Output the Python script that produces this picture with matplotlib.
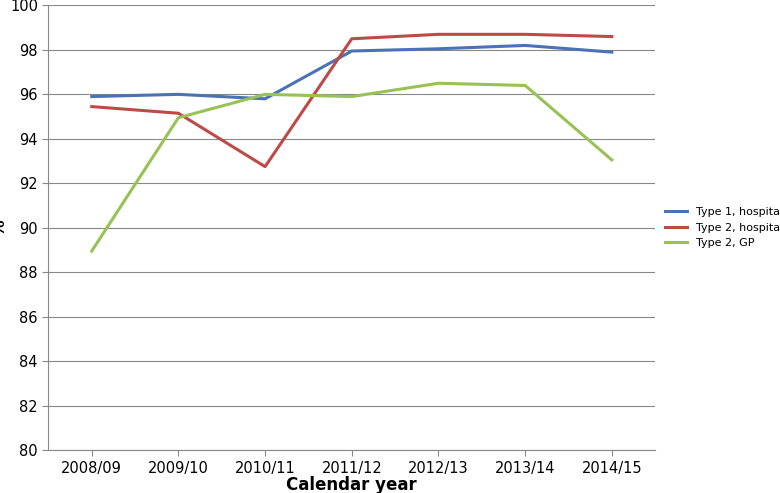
import matplotlib
matplotlib.use("Agg")
import matplotlib.pyplot as plt

years = ["2008/09","2009/10","2010/11","2011/12","2012/13","2013/14","2014/15"]
type1_hosp = [95.9, 96.0, 95.8, 97.95, 98.05, 98.2, 97.9]
type2_hosp = [95.45, 95.15, 92.75, 98.5, 98.7, 98.7, 98.6]
type2_gp = [88.95, 94.95, 96.0, 95.9, 96.5, 96.4, 93.05]

fig = plt.figure(figsize=(7.8, 4.93), dpi=100)
ax = fig.add_axes([0.062, 0.087, 0.778, 0.902])
x = range(len(years))
ax.plot(x, type1_hosp, color="#4a72b5", lw=2.2, label="Type 1, hospital")
ax.plot(x, type2_hosp, color="#bc4a46", lw=2.2, label="Type 2, hospital")
ax.plot(x, type2_gp, color="#98c255", lw=2.2, label="Type 2, GP")
ax.set_xlim(-0.5, 6.5)
ax.set_ylim(80, 100)
ax.set_yticks(range(80, 101, 2))
ax.set_xticks(list(x))
ax.set_xticklabels(years)
ax.grid(axis="y", color="#888888", lw=0.8)
ax.set_axisbelow(True)
for s in ["top", "right"]:
    ax.spines[s].set_visible(False)
for s in ["left", "bottom"]:
    ax.spines[s].set_color("#888888")
ax.tick_params(labelsize=10.5, length=4, color="#888888")
ax.set_xlabel("Calendar year", fontsize=12, fontweight="bold", labelpad=0)
ax.set_ylabel("%", fontsize=12, fontweight="bold")
ax.yaxis.set_label_coords(-0.065, 0.5)
ax.legend(loc="center left", bbox_to_anchor=(1.0, 0.5), frameon=False, fontsize=8)
fig.savefig("out.png")
